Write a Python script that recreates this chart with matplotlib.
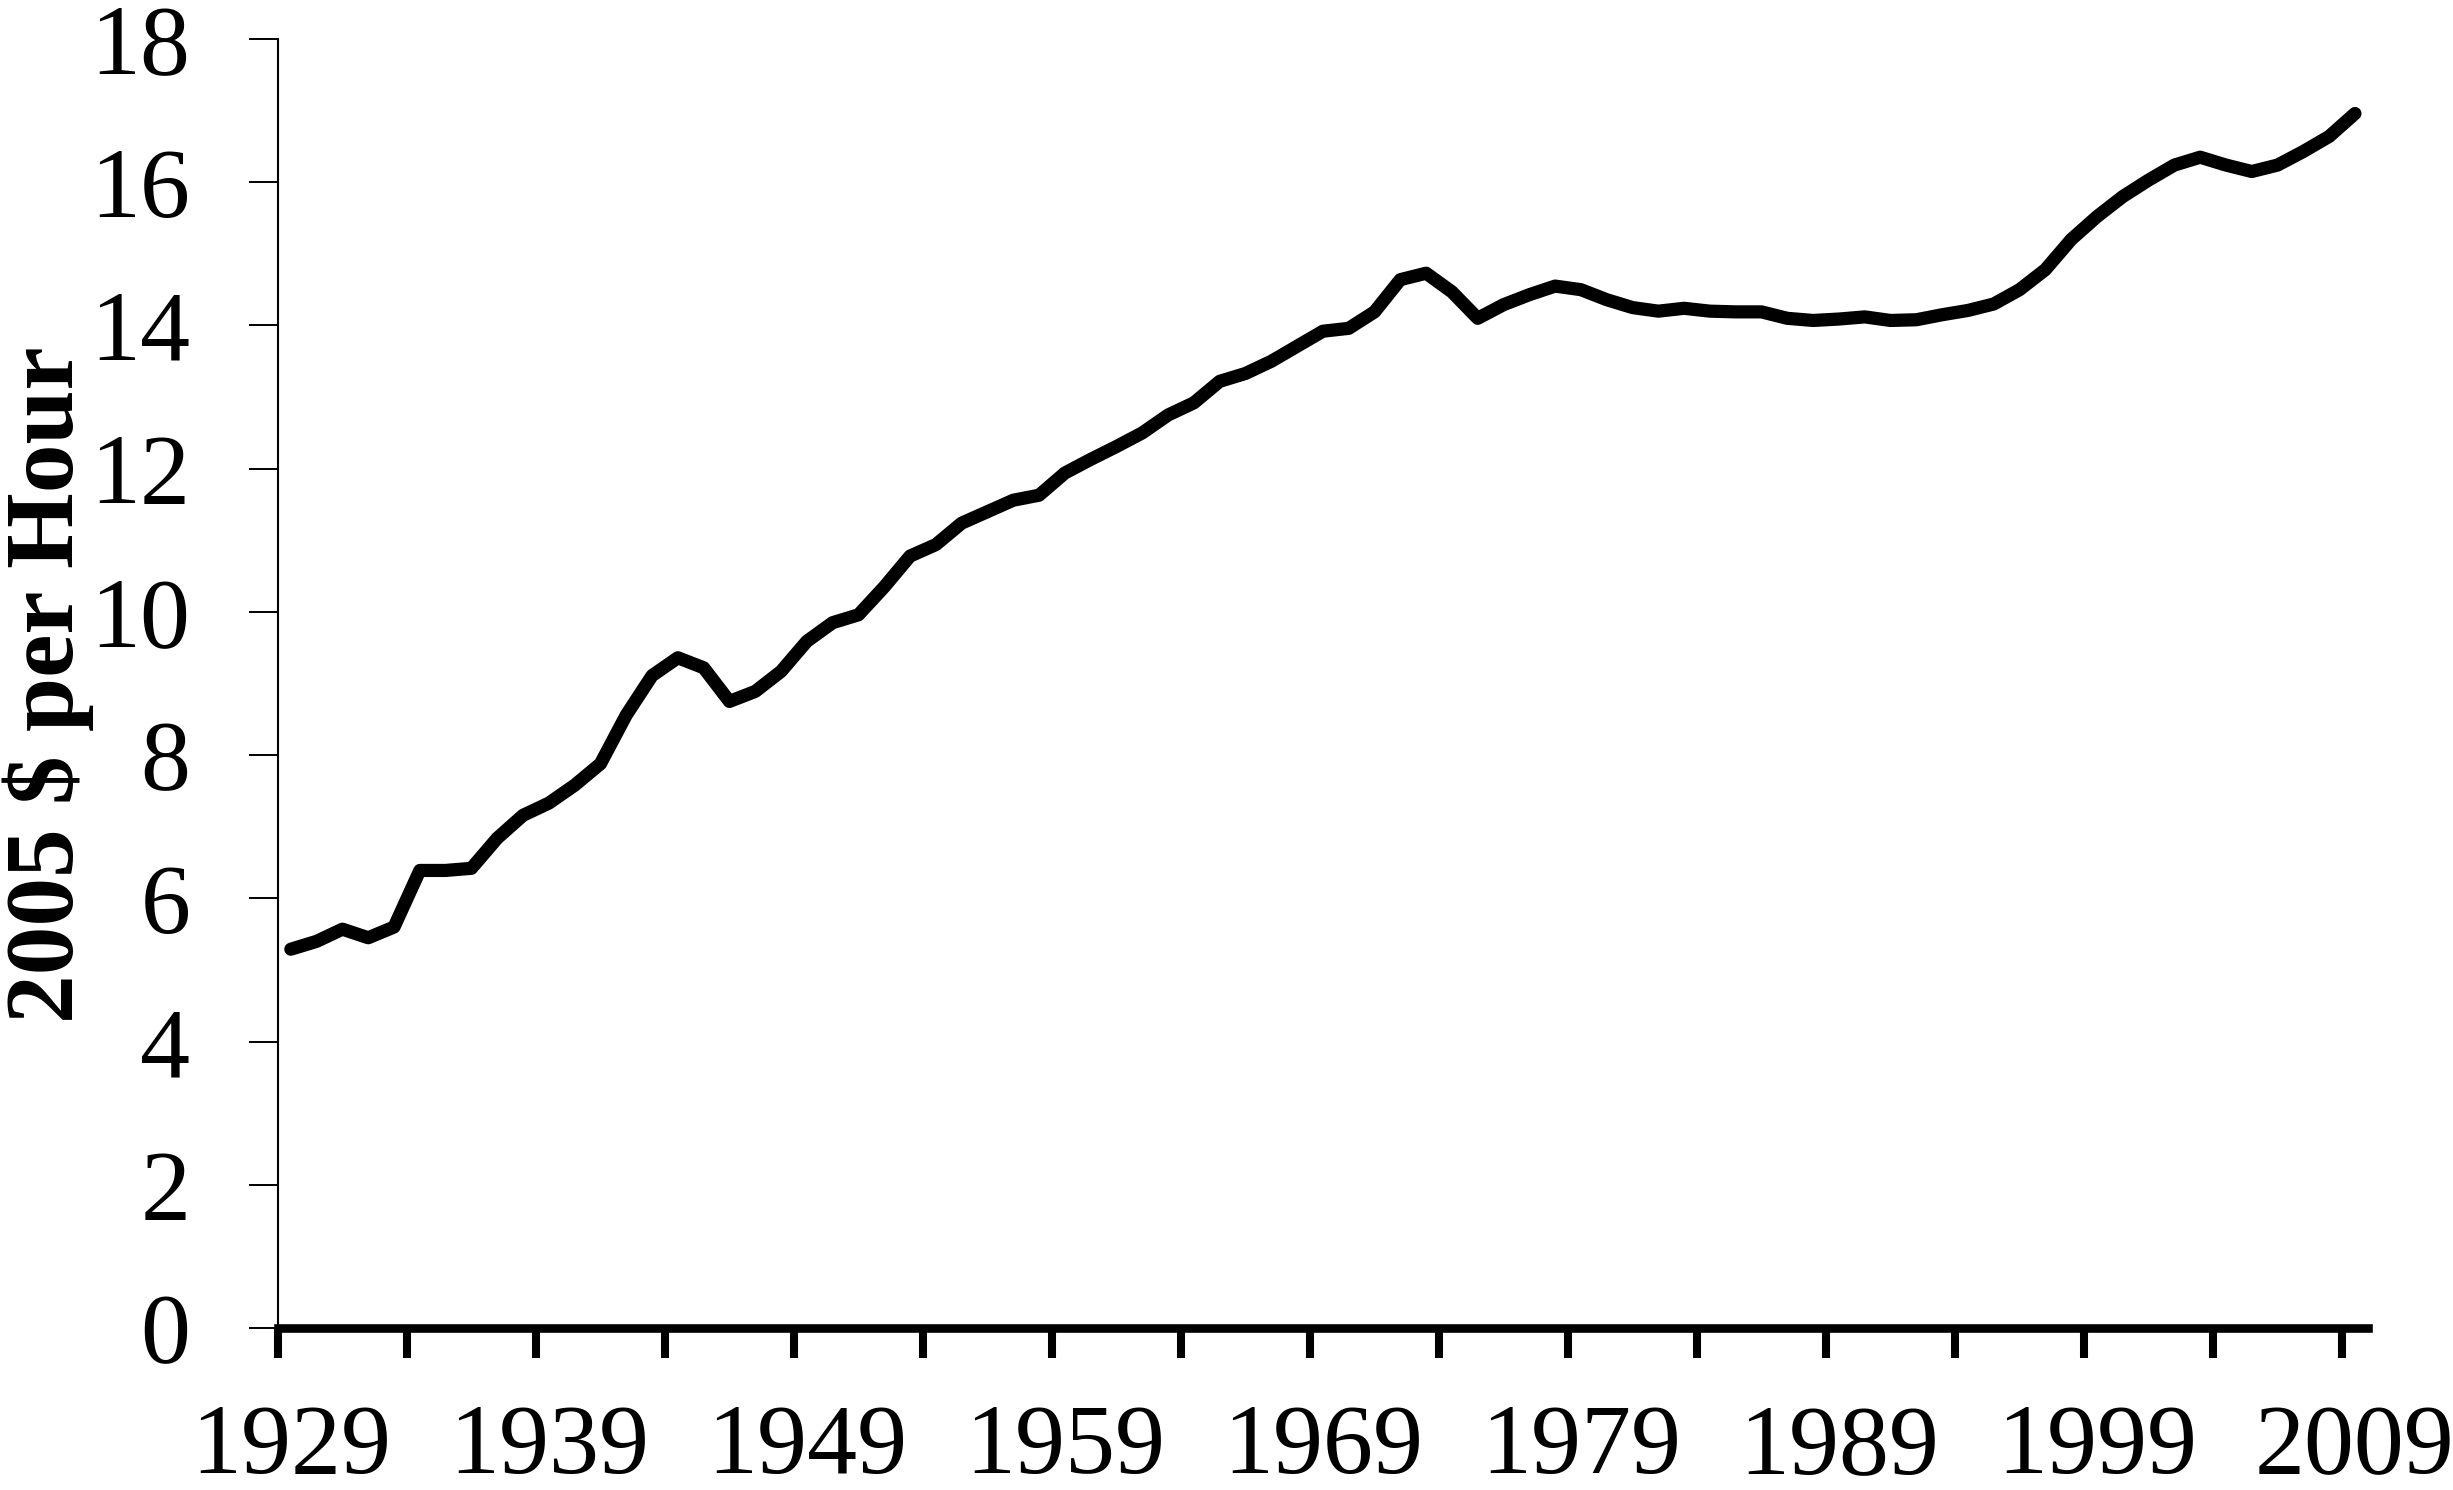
import matplotlib
matplotlib.use("Agg")
import matplotlib.pyplot as plt
from matplotlib.ticker import FixedLocator
import numpy as np

plt.rcParams.update({
    "font.family": ["Liberation Serif", "DejaVu Serif"],
    "font.size": 72,
})

years = np.arange(1929, 2010)
wage = [
    5.29, 5.40, 5.57, 5.45, 5.60, 6.39, 6.39, 6.42, 6.84, 7.16,
    7.33, 7.58, 7.88, 8.56, 9.11, 9.36, 9.22, 8.75, 8.89, 9.17,
    9.59, 9.85, 9.96, 10.35, 10.78, 10.94, 11.24, 11.40, 11.56, 11.63,
    11.94, 12.13, 12.31, 12.50, 12.75, 12.92, 13.22, 13.33, 13.50, 13.71,
    13.92, 13.96, 14.19, 14.64, 14.73, 14.47, 14.10, 14.29, 14.43, 14.55,
    14.50, 14.36, 14.25, 14.20, 14.24, 14.20, 14.19, 14.19, 14.10, 14.07,
    14.09, 14.12, 14.07, 14.08, 14.15, 14.21, 14.30, 14.50, 14.78, 15.20,
    15.52, 15.80, 16.03, 16.24, 16.35, 16.24, 16.15, 16.24, 16.43, 16.64,
    16.96,
]
label_years = np.arange(1929, 2010, 10)
y_ticks = np.arange(0, 19, 2)

fig = plt.figure(figsize=(24.53, 14.90), dpi=100)
ax = fig.add_axes([0.1133, 0.1087, 0.852, 0.8651])

ax.plot(years, wage, color="black", linewidth=9.5,
        solid_capstyle="round", solid_joinstyle="round")

ax.set_xlim(years[0] - 0.5, years[-1] + 0.5)
ax.set_ylim(0, 18)

ax.set_xticks(label_years)
ax.set_xticklabels([str(y) for y in label_years])
ax.xaxis.set_minor_locator(FixedLocator(np.arange(years[0] - 0.5, years[-1] + 0.5, 5)))
ax.tick_params(axis="x", which="major", length=0, pad=55)
ax.tick_params(axis="x", which="minor", length=21.5, width=5.8, direction="out")

ax.set_yticks(y_ticks)
ax.tick_params(axis="y", length=21, width=1.4, pad=42, direction="out")

for side in ("top", "right"):
    ax.spines[side].set_visible(False)
ax.spines["bottom"].set_linewidth(6.2)
ax.spines["left"].set_linewidth(1.5)

fig.text(48 / 2453, 1 - 685 / 1490, "2005 $ per Hour", rotation=90,
         ha="center", va="center", fontsize=70, fontweight="bold")

fig.savefig("out.png", dpi=100)
